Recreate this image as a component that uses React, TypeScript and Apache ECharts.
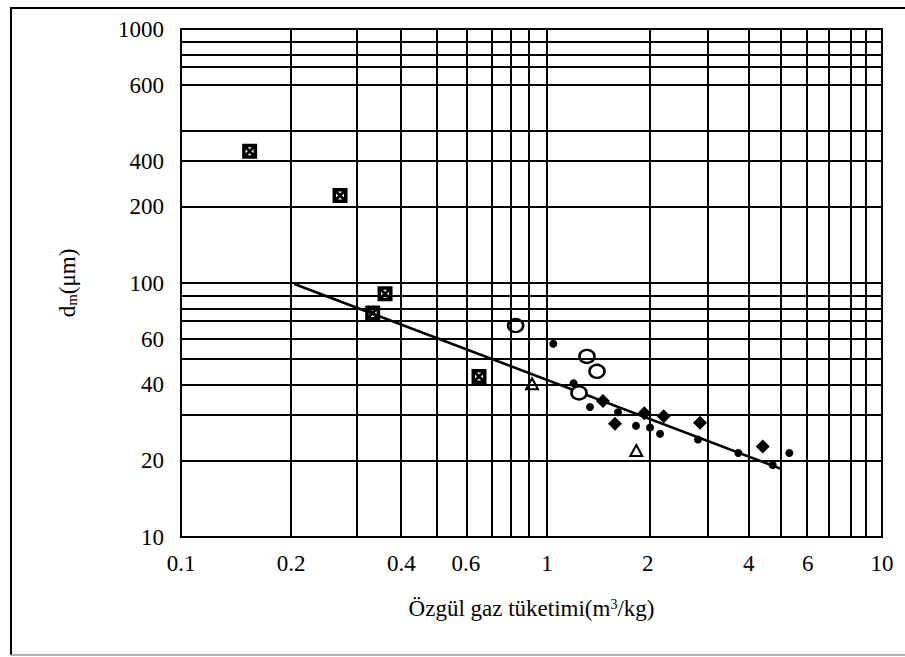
import React, { useEffect, useRef } from "react";
import * as echarts from "echarts";

// ---- Data ----
const xTickValues = [0.1, 0.2, 0.4, 0.6, 1, 2, 4, 6, 10];
const xTickLabels = ["0.1", "0.2", "0.4", "0.6", "1", "2", "4", "6", "10"];
const yTickValues = [10, 20, 40, 60, 100, 200, 300, 600, 1000];
const yTickLabels = ["10", "20", "40", "60", "100", "200", "400", "600", "1000"];
const xGridValues = [0.2, 0.3, 0.4, 0.5, 0.6, 0.7, 0.8, 0.9, 1, 2, 3, 4, 5, 6, 7, 8, 9];
const yGridValues = [20, 30, 40, 50, 60, 70, 80, 90, 100, 200, 300, 400, 600, 700, 800, 900];

const squaresX = [0.154, 0.272, 0.334, 0.361, 0.652];
const squaresY = [330, 221, 76.2, 90.8, 42.8];
const circlesX = [0.821, 1.246, 1.316, 1.41];
const circlesY = [68.0, 36.9, 51.4, 44.9];
const trianglesX = [0.91, 1.847];
const trianglesY = [40.1, 21.9];
const diamondsX = [1.469, 1.596, 1.952, 2.23, 2.862, 4.405];
const diamondsY = [34.3, 27.9, 30.7, 29.9, 28.2, 22.7];
const dotsX = [1.044, 1.201, 1.344, 1.629, 1.844, 2.03, 2.175, 2.823, 3.724, 4.718, 5.288];
const dotsY = [57.7, 40.3, 32.5, 31.0, 27.4, 27.0, 25.5, 24.2, 21.4, 19.2, 21.4];
const fitX = [0.204, 5.018];
const fitY = [99.1, 18.5];

// The printed log paper has a narrower upper decade on the x axis.
const X_UPPER_DECADE = 335 / 366;
const xT = (v: number) => {
  const l = Math.log10(v);
  return l <= 0 ? l : l * X_UPPER_DECADE;
};
const yT = (v: number) => Math.log10(v);

const pts = (xs: number[], ys: number[]) => xs.map((x, i) => [xT(x), yT(ys[i])]);

const FONT = "Liberation Serif";
const boxSymbol =
  "path://M0,0H15V15H0Z M3.5,3.5V11.5H11.5V3.5Z M3.5,3.5L5.5,3.5L11.5,9.5L11.5,11.5L9.5,11.5L3.5,5.5Z M11.5,3.5L11.5,5.5L5.5,11.5L3.5,11.5L3.5,9.5L9.5,3.5Z";

export default function App() {
  const ref = useRef<HTMLDivElement>(null);
  useEffect(() => {
    if (!ref.current) return;
    const chart = echarts.init(ref.current, undefined, { renderer: "svg" });
    const gridLineStyle = { type: "solid", color: "#000", width: 2, opacity: 1 };
    chart.setOption({
      animation: false,
      backgroundColor: "#fff",
      grid: {
        left: 181,
        top: 29,
        width: 701,
        height: 508,
        show: true,
        borderColor: "#000",
        borderWidth: 2,
        backgroundColor: "transparent",
      },
      graphic: [
        { type: "line", shape: { x1: 10, y1: 8, x2: 905, y2: 8 }, style: { stroke: "#000", lineWidth: 2 } },
        { type: "line", shape: { x1: 11, y1: 8, x2: 11, y2: 655 }, style: { stroke: "#000", lineWidth: 2 } },
        { type: "line", shape: { x1: 10, y1: 655, x2: 905, y2: 655 }, style: { stroke: "#999", lineWidth: 1.5 } },
      ],
      xAxis: {
        type: "value",
        min: -1,
        max: X_UPPER_DECADE,
        splitLine: { show: false },
        axisTick: { show: false },
        axisLine: { show: false },
        axisLabel: {
          customValues: xTickValues.map(xT),
          formatter: (val: number) => {
            const i = xTickValues.findIndex((v) => Math.abs(xT(v) - val) < 1e-6);
            return i >= 0 ? xTickLabels[i] : "";
          },
          fontFamily: FONT,
          fontSize: 23,
          color: "#000",
          margin: 15,
        },
        name: "Özgül gaz tüketimi(m{sup|3}/kg)",
        nameLocation: "middle",
        nameGap: 60,
        nameTextStyle: {
          fontFamily: FONT,
          fontSize: 23,
          color: "#000",
          rich: {
            sup: { fontFamily: FONT, fontSize: 14, color: "#000", verticalAlign: "top" },
          },
        },
      },
      yAxis: {
        type: "value",
        min: 1,
        max: 3,
        splitLine: { show: false },
        axisTick: { show: false },
        axisLine: { show: false },
        axisLabel: {
          customValues: yTickValues.map(yT),
          formatter: (val: number) => {
            const i = yTickValues.findIndex((v) => Math.abs(yT(v) - val) < 1e-6);
            return i >= 0 ? yTickLabels[i] : "";
          },
          fontFamily: FONT,
          fontSize: 23,
          color: "#000",
          margin: 17,
        },
        name: "{d|d}{sub|m}{d|(μm)}",
        nameLocation: "middle",
        nameGap: 102,
        nameTextStyle: {
          fontFamily: FONT,
          fontSize: 23,
          color: "#000",
          rich: {
            d: { fontFamily: FONT, fontSize: 23, color: "#000" },
            sub: { fontFamily: FONT, fontSize: 15, color: "#000", verticalAlign: "bottom", padding: [8, 0, 0, 0] },
          },
        },
      },
      series: [
        {
          name: "grid",
          type: "line",
          data: [],
          z: 1,
          silent: true,
          markLine: {
            silent: true,
            symbol: "none",
            label: { show: false },
            lineStyle: gridLineStyle,
            emphasis: { disabled: true },
            data: [
              ...xGridValues.map((v) => ({ xAxis: xT(v) })),
              ...yGridValues.map((v) => ({ yAxis: yT(v) })),
            ],
          },
        },
        {
          name: "fit",
          type: "line",
          data: pts(fitX, fitY),
          symbol: "none",
          lineStyle: { color: "#000", width: 2.5, opacity: 1 },
          z: 2,
        },
        {
          name: "squares",
          type: "scatter",
          data: pts(squaresX, squaresY),
          symbol: boxSymbol,
          symbolSize: [15, 15],
          itemStyle: { color: "#000", opacity: 1 },
          z: 3,
        },
        {
          name: "circles",
          type: "scatter",
          data: pts(circlesX, circlesY),
          symbol: "circle",
          symbolSize: [15, 13],
          itemStyle: { color: "#fff", borderColor: "#000", borderWidth: 2.5, opacity: 1 },
          z: 3,
        },
        {
          name: "triangles",
          type: "scatter",
          data: pts(trianglesX, trianglesY),
          symbol: "triangle",
          symbolSize: [12, 11],
          itemStyle: { color: "#fff", borderColor: "#000", borderWidth: 2, opacity: 1 },
          z: 3,
        },
        {
          name: "diamonds",
          type: "scatter",
          data: pts(diamondsX, diamondsY),
          symbol: "diamond",
          symbolSize: [14, 14],
          itemStyle: { color: "#000", opacity: 1 },
          z: 3,
        },
        {
          name: "dots",
          type: "scatter",
          data: pts(dotsX, dotsY),
          symbol: "circle",
          symbolSize: 8,
          itemStyle: { color: "#000", opacity: 1 },
          z: 3,
        },
      ],
    });
    return () => chart.dispose();
  }, []);
  return (
    <div
      ref={ref}
      style={{ position: "absolute", left: 0, top: 0, width: 905, height: 657, background: "#fff" }}
    />
  );
}
